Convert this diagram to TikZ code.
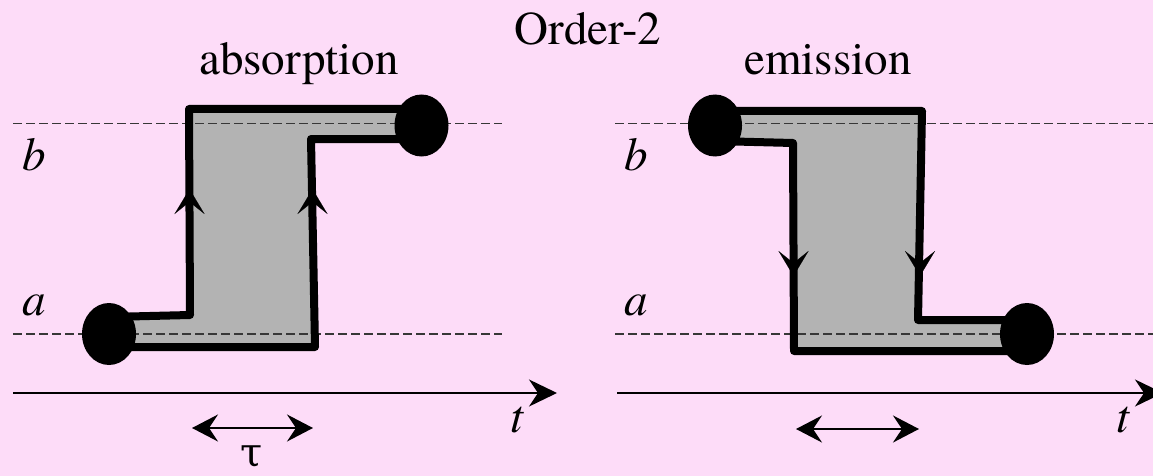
\documentclass[tikz,border=0pt]{standalone}
\usepackage{fontspec}
\setmainfont{texgyretermes}[Extension=.otf, UprightFont=*-regular, ItalicFont=*-italic, BoldFont=*-bold, BoldItalicFont=*-bolditalic]
\newfontfamily\greekfont{DejaVu Serif}
\usetikzlibrary{arrows.meta,shapes.geometric}
\definecolor{bg}{RGB}{253,220,248}
\definecolor{bandgray}{RGB}{179,179,179}
\definecolor{dashgray}{RGB}{55,55,55}
\begin{document}
\begin{tikzpicture}[x=1pt,y=-1pt,
  lbl/.style={inner sep=0pt, font=\fontsize{47}{56}\selectfont},
  dot/.style={ellipse, fill=black, minimum width=54pt, minimum height=62pt, inner sep=0pt},
  level/.style={draw=dashgray, line width=1.3pt, dash pattern=on 9pt off 4pt},
  band/.style={fill=bandgray},
  edge/.style={line width=8pt, line join=round},
  flow/.style={-{Stealth[length=25pt,width=30pt,inset=12pt]}, line width=0.1pt},
  axis/.style={line width=2pt, -{Stealth[length=28pt,width=27pt,inset=9pt]}},
  span/.style={line width=2pt, {Stealth[length=26pt,width=27pt,inset=9pt]}-{Stealth[length=26pt,width=27pt,inset=9pt]}}
]
\useasboundingbox (0,0) rectangle (1153,476);
\fill[bg] (0,0) rectangle (1153,476);

% ---------- absorption (left) ----------
\coordinate (La1) at (109,317);
\coordinate (La2) at (190,315);
\coordinate (La3) at (189,109);
\coordinate (La4) at (422,109);
\coordinate (Lb1) at (422,139);
\coordinate (Lb2) at (311,139);
\coordinate (Lb3) at (315,347);
\coordinate (Lb4) at (109,347);
\fill[band] (La1) -- (La2) -- (La3) -- (La4) -- (Lb1) -- (Lb2) -- (Lb3) -- (Lb4) -- cycle;

% ---------- emission (right) ----------
\coordinate (Ra1) at (715,111);
\coordinate (Ra2) at (922,111);
\coordinate (Ra3) at (918,320);
\coordinate (Ra4) at (1027,320);
\coordinate (Rb1) at (1027,351);
\coordinate (Rb2) at (794,351);
\coordinate (Rb3) at (793,143);
\coordinate (Rb4) at (715,141);
\fill[band] (Ra1) -- (Ra2) -- (Ra3) -- (Ra4) -- (Rb1) -- (Rb2) -- (Rb3) -- (Rb4) -- cycle;

% ---------- levels ----------
\coordinate (lvLb0) at (13,123.5);  \coordinate (lvLb1) at (502,123.5);
\coordinate (lvLa0) at (13,334);    \coordinate (lvLa1) at (502,334);
\coordinate (lvRb0) at (615,123.5); \coordinate (lvRb1) at (1153,123.5);
\coordinate (lvRa0) at (615,334);   \coordinate (lvRa1) at (1153,334);
\draw[level] (lvLb0) -- (lvLb1);
\draw[level] (lvLa0) -- (lvLa1);
\draw[level] (lvRb0) -- (lvRb1);
\draw[level] (lvRa0) -- (lvRa1);

% ---------- outlines ----------
\draw[edge] (La1) -- (La2) -- (La3) -- (La4);
\draw[edge] (Lb1) -- (Lb2) -- (Lb3) -- (Lb4);
\draw[edge] (Ra1) -- (Ra2) -- (Ra3) -- (Ra4);
\draw[edge] (Rb1) -- (Rb2) -- (Rb3) -- (Rb4);

% ---------- direction marks ----------
\coordinate (fL1s) at (189.5,220); \coordinate (fL1e) at (189.5,189);
\coordinate (fL2s) at (312.5,220); \coordinate (fL2e) at (312.5,189);
\coordinate (fR1s) at (793.5,245); \coordinate (fR1e) at (793.5,276);
\coordinate (fR2s) at (920,245);   \coordinate (fR2e) at (920,276);
\draw[flow] (fL1s) -- (fL1e);
\draw[flow] (fL2s) -- (fL2e);
\draw[flow] (fR1s) -- (fR1e);
\draw[flow] (fR2s) -- (fR2e);

% ---------- dots ----------
\node[dot] (dLa) at (109,334) {};
\node[dot] (dLb) at (421.5,125.5) {};
\node[dot] (dRb) at (715,125.5) {};
\node[dot] (dRa) at (1027,334) {};

% ---------- texts ----------
\node[lbl, anchor=base] (title) at (588,45) {Order-2};
\node[lbl, anchor=base] (tabs) at (299,75) {absorption};
\node[lbl, anchor=base] (temi) at (828,75) {emission};
\node[lbl, anchor=base west] (bL) at (22,170) {\itshape b};
\node[lbl, anchor=base west] (aL) at (22,315) {\itshape a};
\node[lbl, anchor=base west] (bR) at (624,170) {\itshape b};
\node[lbl, anchor=base west] (aR) at (624,315) {\itshape a};
\node[lbl, anchor=base] (tL) at (517,432) {\itshape t};
\node[lbl, anchor=base] (tR) at (1123,432) {\itshape t};
\node[lbl, anchor=base, font=\greekfont\fontsize{40}{48}\selectfont] (tau) at (252,466) {τ};

% ---------- time axes ----------
\coordinate (axL0) at (13,393);  \coordinate (axL1) at (557,393);
\coordinate (axR0) at (617,393); \coordinate (axR1) at (1163,393);
\draw[axis] (axL0) -- (axL1);
\draw[axis] (axR0) -- (axR1);

% ---------- durations ----------
\coordinate (spL0) at (192,428); \coordinate (spL1) at (313,428);
\coordinate (spR0) at (796,429); \coordinate (spR1) at (919,429);
\draw[span] (spL0) -- (spL1);
\draw[span] (spR0) -- (spR1);
\end{tikzpicture}
\end{document}
